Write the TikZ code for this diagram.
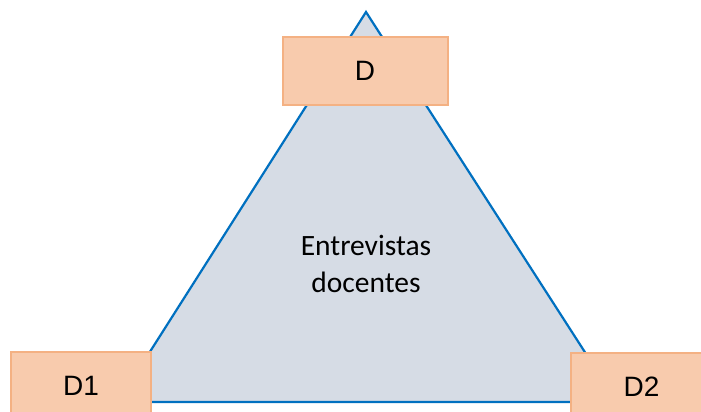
\documentclass[tikz,border=0pt]{standalone}
\usepackage{fontspec}
\setmainfont{Liberation Sans}
\newfontfamily\calibrifont{Carlito}
\usepackage{tikz}
\pgfdeclarelayer{background}
\pgfsetlayers{background,main}
\definecolor{boxfill}{HTML}{F8CBAD}
\definecolor{boxline}{HTML}{F4B183}
\definecolor{trifill}{HTML}{D6DCE5}
\definecolor{triline}{HTML}{0070C0}

\begin{document}
\begin{tikzpicture}[x=1pt,y=-1pt,
						boxnode/.style={rectangle, draw=boxline, line width=2pt, fill=boxfill, minimum height=67pt, inner sep=0pt, font=\fontsize{28}{34}\selectfont},
						]
						\useasboundingbox (0,0) rectangle (701,412);
						\clip (0,0) rectangle (701,412);
						%Nodes
						\coordinate           (apex) 	at	(366,12);
						\coordinate           (left) 	at	(118,402);
						\coordinate           (right) 	at	(617,402);
						\node[boxnode, minimum width=165pt]      (d) 	at 	(365,71)           {D};
						\node[boxnode, minimum width=140pt]      (d1) 	at 	(81,385.5)          {D1};
						\node[boxnode, minimum width=141pt]      (d2) 	at 	(641.5,386.5)           {D2};
						\node[align=center, font=\calibrifont\fontsize{29.5}{37}\selectfont] (label) at (366,264) {Entrevistas\\docentes};
						
						\begin{pgfonlayer}{background}
						\filldraw[fill=trifill, draw=triline, line width=2.2pt, line join=miter] (apex) -- (left) -- (right) -- cycle;
						\end{pgfonlayer}
					\end{tikzpicture}
\end{document}
